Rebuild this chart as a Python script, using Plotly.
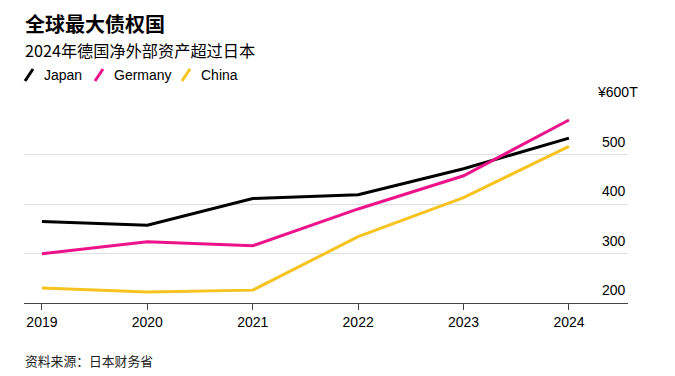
import plotly.graph_objects as go

years = [2019, 2020, 2021, 2022, 2023, 2024]
japan = [364.5, 357.0, 411.2, 418.6, 471.3, 533.1]
germany = [299.7, 323.7, 315.6, 390.0, 457.0, 569.7]
china = [230.5, 222.0, 226.0, 334.0, 413.0, 516.3]

series_names = ["Japan", "Germany", "China"]
series_colors = ["#000000", "#ec138a", "#f6c320"]
ytick_vals = [200, 300, 400, 500, 600]
ytick_text = ["200", "300", "400", "500", "¥600T"]

title = "全球最大债权国"
subtitle = "2024年德国净外部资产超过日本"
source = "资料来源：日本财务省"

LAT = "Liberation Sans, Arial, sans-serif"
CJK = "Noto Sans CJK SC, sans-serif"

fig = go.Figure()
for name, vals, col in zip(series_names, [japan, germany, china], series_colors):
    fig.add_trace(go.Scatter(x=years, y=vals, mode="lines", name=name,
                             line=dict(color=col, width=3), showlegend=False,
                             cliponaxis=False, hoverinfo="skip"))

W, H = 675, 376
ml, mr, mt, mb = 24, 47, 105, 73

fig.update_layout(
    width=W, height=H,
    margin=dict(l=ml, r=mr, t=mt, b=mb),
    paper_bgcolor="white", plot_bgcolor="white",
    xaxis=dict(range=[2018.83, 2024.56], tickvals=years,
               ticktext=[str(y) for y in years],
               showgrid=False, zeroline=False,
               showline=True, linecolor="#444", linewidth=1,
               ticks="outside", ticklen=6, tickcolor="#444", tickwidth=1,
               tickfont=dict(family=LAT, size=14, color="#000")),
    yaxis=dict(range=[200, 600], tickvals=ytick_vals, showticklabels=False,
               showgrid=True, gridcolor="#dedede", gridwidth=1,
               zeroline=False, showline=False),
    showlegend=False,
)

annotations = []
for v, t in zip(ytick_vals, ytick_text):
    annotations.append(dict(x=1.0, xref="paper", xshift=12 if v == 600 else 0,
                            y=v, yref="y", yshift=13, text=t, showarrow=False,
                            xanchor="right", yanchor="middle",
                            font=dict(family=LAT, size=14, color="#000")))

def px_x(px):
    return (px - ml) / (W - ml - mr)

def px_y(py):
    return (H - mb - py) / (H - mt - mb)

annotations.append(dict(x=px_x(23), y=px_y(23), xref="paper", yref="paper",
                        text="<b>" + title + "</b>", showarrow=False,
                        xanchor="left", yanchor="middle",
                        font=dict(family=CJK, size=20, color="#000")))
annotations.append(dict(x=px_x(23), y=px_y(50), xref="paper", yref="paper",
                        text=subtitle, showarrow=False,
                        xanchor="left", yanchor="middle",
                        font=dict(family=CJK, size=16.2, color="#000")))
annotations.append(dict(x=px_x(23), y=px_y(360), xref="paper", yref="paper",
                        text=source, showarrow=False,
                        xanchor="left", yanchor="middle",
                        font=dict(family=CJK, size=12.8, color="#222")))

shapes = []
leg_x = [25, 95, 182]
for name, col, lx in zip(series_names, series_colors, leg_x):
    shapes.append(dict(type="line", xref="paper", yref="paper",
                       x0=px_x(lx), y0=px_y(81), x1=px_x(lx + 8), y1=px_y(69),
                       line=dict(color=col, width=3)))
    annotations.append(dict(x=px_x(lx + 17), y=px_y(75), xref="paper",
                            yref="paper", text=name, showarrow=False,
                            xanchor="left", yanchor="middle",
                            font=dict(family=LAT, size=14, color="#000")))

fig.update_layout(annotations=annotations, shapes=shapes)
fig.write_html("out.html", config={"displayModeBar": False},
               post_script="document.body.style.margin='0';document.body.style.overflow='hidden';")
